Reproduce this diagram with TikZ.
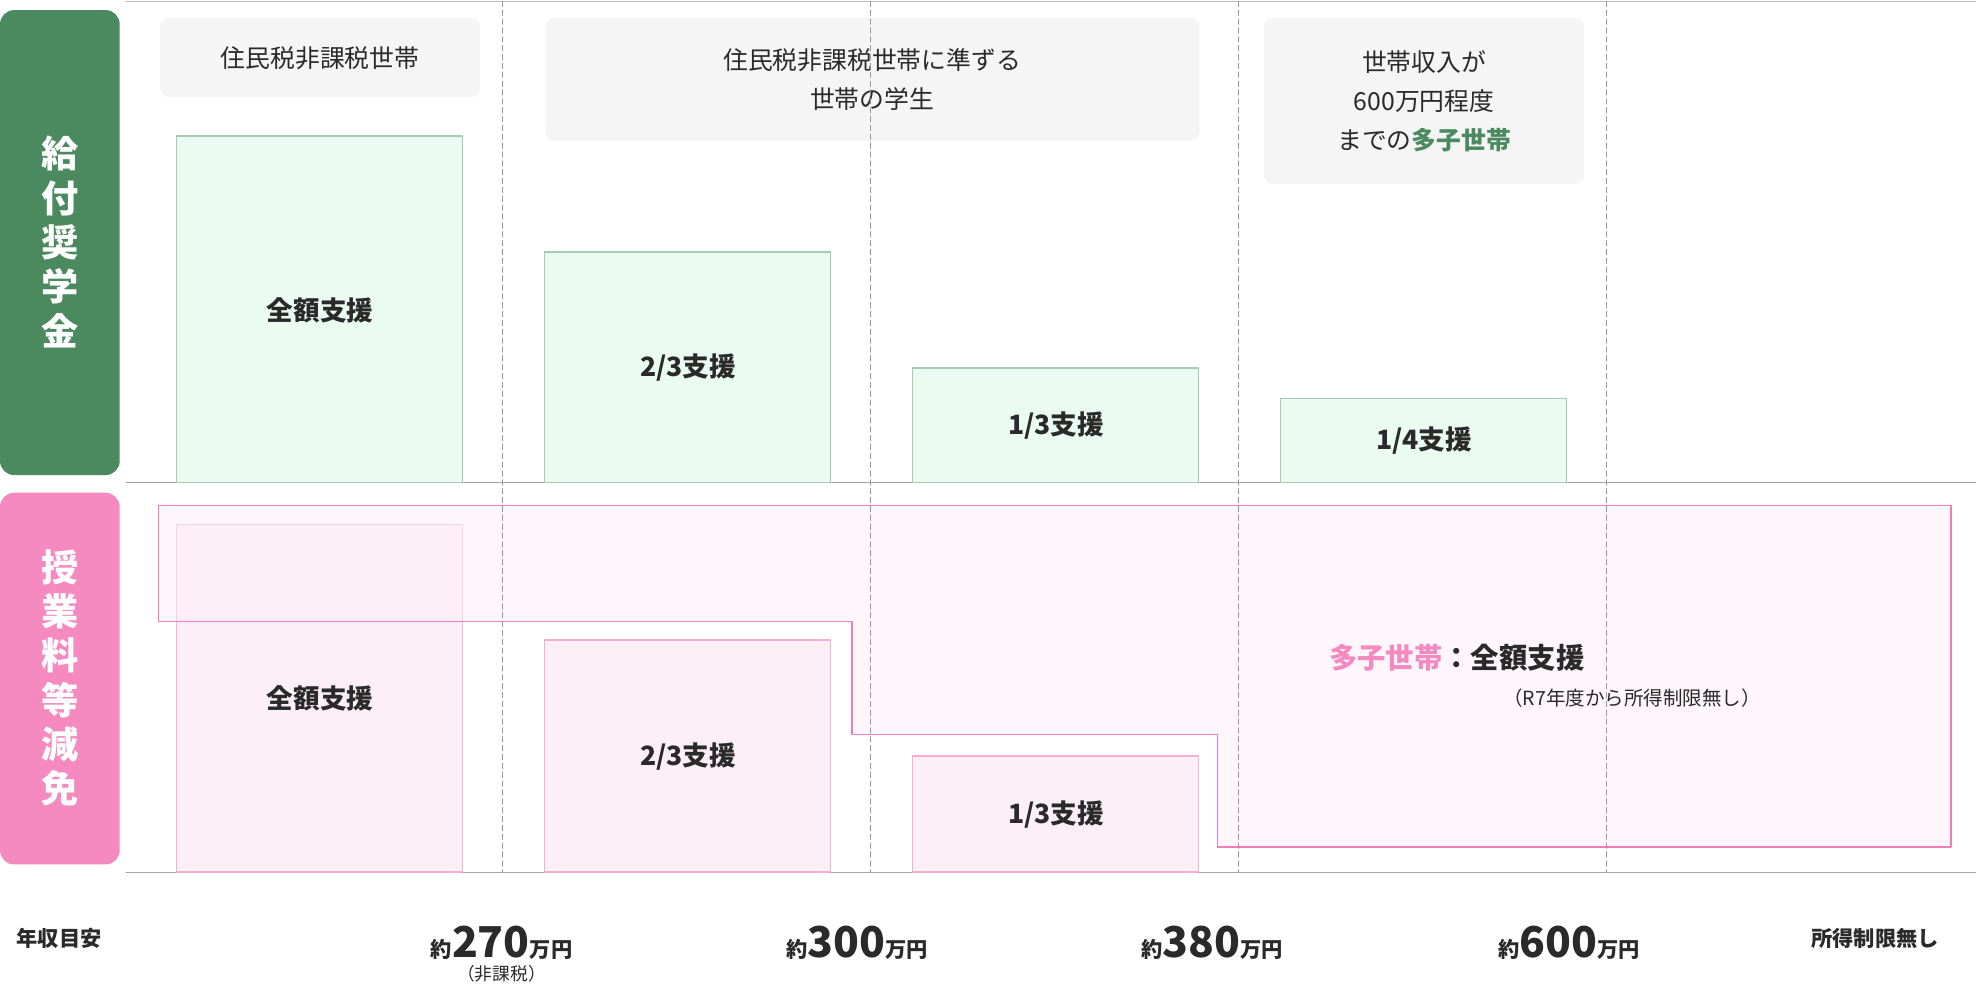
\documentclass[tikz,border=0pt]{standalone}
\usepackage{fontspec}
\setmainfont{Noto Sans CJK JP}
\usetikzlibrary{positioning}
\definecolor{kyufu}{HTML}{4B8A5E}
\definecolor{genmen}{HTML}{F58AC1}
\definecolor{hdrgray}{HTML}{F5F5F5}
\definecolor{gfill}{HTML}{EAFBF1}
\definecolor{gline}{HTML}{A3CDB3}
\definecolor{pfill}{HTML}{FDEFF6}
\definecolor{pline}{HTML}{F6AED3}
\definecolor{pstep}{HTML}{F07DB9}
\definecolor{txt}{HTML}{2A2A2A}
\newcommand{\untxt}[1]{{\fontsize{12}{14}\selectfont #1}}
\tikzset{
  side/.style={rounded corners=8pt,text=white,font=\fontsize{21}{25}\selectfont\bfseries,align=center},
  hdr/.style={fill=hdrgray,rounded corners=5pt},
  gbar/.style={fill=gfill,draw=gline,line width=0.8pt},
  pbar/.style={fill=pfill,draw=pline,line width=0.8pt},
  lbl/.style={font=\fontsize{15}{18}\selectfont\bfseries,text=txt},
  htxt/.style={font=\fontsize{14}{22}\selectfont,text=txt,align=center},
  num/.style={font=\fontsize{24}{26}\selectfont\bfseries,text=txt}
}
\begin{document}
\begin{tikzpicture}[x=0.025cm,y=-0.025cm,line cap=round,line join=round]
  \useasboundingbox (0,0) rectangle (1568,786);
  % grid lines
  \draw[gray!50,line width=0.6pt] (100,1) -- (1568,1);
  \draw[gray!70,line width=0.6pt] (100,383) -- (1568,383);
  \draw[gray!70,line width=0.6pt] (100,692) -- (1568,692);
  % side labels
  \fill[kyufu,rounded corners=8pt] (0,8) rectangle (95,377);
  \node[side] (kyufu) at (47.5,192) {給\\付\\奨\\学\\金};
  \fill[genmen,rounded corners=8pt] (0,391) rectangle (95,686);
  \node[side] (genmen) at (47.5,538) {授\\業\\料\\等\\減\\免};
  % headers
  \fill[hdr] (127,14) rectangle (381,77);
  \node[htxt] (h1) at (254,46) {住民税非課税世帯};
  \fill[hdr] (433,14) rectangle (952,112);
  \node[htxt] (h2) at (692,63) {住民税非課税世帯に準ずる\\世帯の学生};
  \fill[hdr] (1003,14) rectangle (1257,146);
  \node[htxt] (h3) at (1130,80) {世帯収入が\\600万円程度\\までの\textcolor{kyufu}{\bfseries 多子世帯}};
  % green bars
  \draw[gbar] (140,383) rectangle (367,108);
  \node[lbl] (g1) at (254,246) {全額支援};
  \draw[gbar] (432,383) rectangle (659,200);
  \node[lbl] (g2) at (546,292) {2/3支援};
  \draw[gbar] (724,383) rectangle (951,292);
  \node[lbl] (g3) at (838,338) {1/3支援};
  \draw[gbar] (1016,383) rectangle (1243,316);
  \node[lbl] (g4) at (1130,350) {1/4支援};
  % pink bars
  \draw[pbar] (140,692) rectangle (367,416);
  \draw[pbar] (432,692) rectangle (659,508);
  \draw[pbar] (724,692) rectangle (951,600);
  % multi-child step
  \draw[pstep,fill=pfill,fill opacity=0.55,line width=0.8pt]
    (126,401) -- (1548,401) -- (1548,672) -- (966,672) -- (966,583)
    -- (676,583) -- (676,493) -- (126,493) -- cycle;
  \node[lbl] (p1) at (254,554) {全額支援};
  \node[lbl] (p2) at (546,600) {2/3支援};
  \node[lbl] (p3) at (838,646) {1/3支援};
  \node[font=\fontsize{16}{19}\selectfont\bfseries,text=txt] (tashi) at (1156,522) {\textcolor{genmen}{多子世帯}：全額支援};
  \node[font=\fontsize{11}{13}\selectfont,text=txt] (r7) at (1295,554) {（R7年度から所得制限無し）};
  % dashed dividers
  \foreach \x in {399,691,983,1275}
    \draw[gray!80,densely dashed,line width=0.5pt] (\x,1) -- (\x,692);
  % income axis
  \node[font=\fontsize{12}{14}\selectfont\bfseries,text=txt] (axis) at (47,745) {年収目安};
  \node[num] (n1) at (398,748) {\untxt{約}270\untxt{万円}};
  \node[font=\fontsize{10}{12}\selectfont,text=txt] (hika) at (398,773) {（非課税）};
  \node[num] (n2) at (680,748) {\untxt{約}300\untxt{万円}};
  \node[num] (n3) at (962,748) {\untxt{約}380\untxt{万円}};
  \node[num] (n4) at (1245,748) {\untxt{約}600\untxt{万円}};
  \node[font=\fontsize{12}{14}\selectfont\bfseries,text=txt] (nolim) at (1488,745) {所得制限無し};
\end{tikzpicture}
\end{document}
